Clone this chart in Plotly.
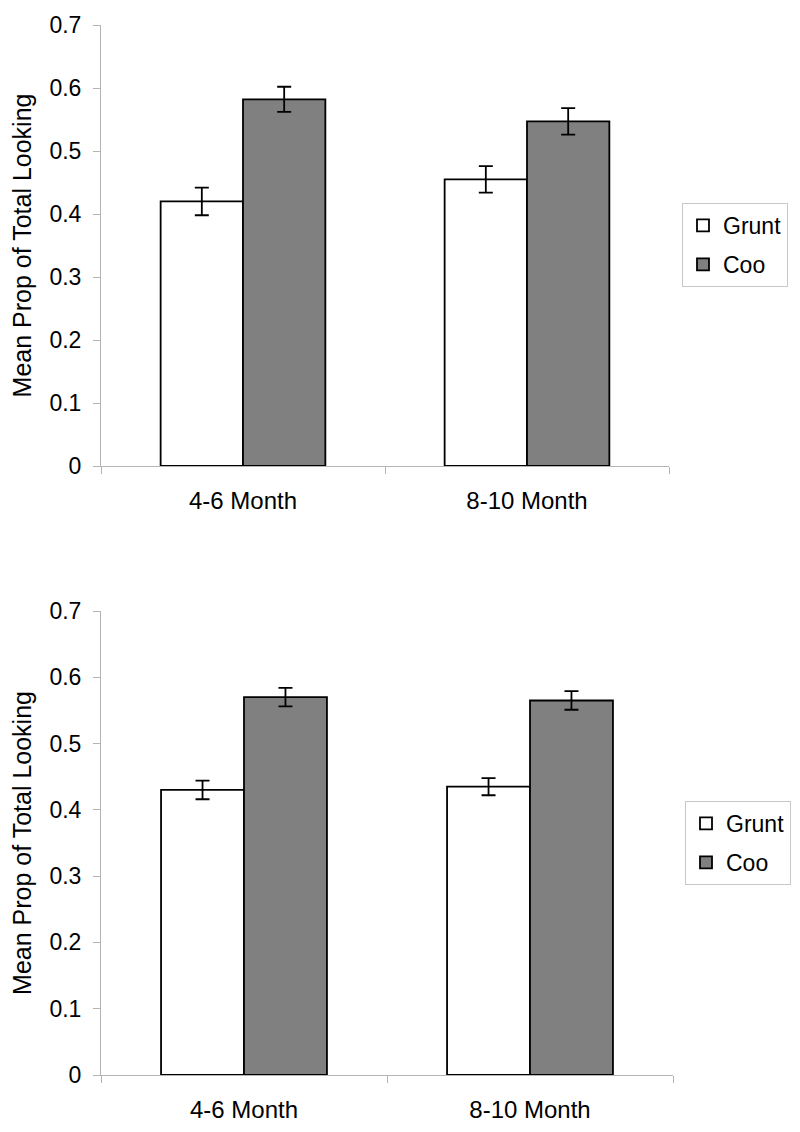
import plotly.graph_objects as go

categories = ["4-6 Month", "8-10 Month"]
tick_vals = [0, 0.1, 0.2, 0.3, 0.4, 0.5, 0.6, 0.7]
tick_text = ["0", "0.1", "0.2", "0.3", "0.4", "0.5", "0.6", "0.7"]

top_grunt = [0.42, 0.455]
top_grunt_err = [0.022, 0.021]
top_coo = [0.582, 0.547]
top_coo_err = [0.020, 0.021]

bot_grunt = [0.430, 0.435]
bot_grunt_err = [0.014, 0.013]
bot_coo = [0.570, 0.565]
bot_coo_err = [0.014, 0.014]

FONT = "Liberation Sans, Arial, sans-serif"
AXIS_GRAY = "#b4b4b4"

fig = go.Figure()

def add_bars(yvals, errs, name, color, xaxis, yaxis, legend, group):
    fig.add_trace(go.Bar(
        x=categories, y=yvals, name=name,
        marker=dict(color=color, line=dict(color="black", width=1.8)),
        error_y=dict(type="data", array=errs, visible=True, color="black",
                     thickness=1.8, width=7),
        xaxis=xaxis, yaxis=yaxis, legend=legend, legendgroup=group,
    ))

add_bars(top_grunt, top_grunt_err, "Grunt", "white", "x", "y", "legend", "tg")
add_bars(top_coo, top_coo_err, "Coo", "#808080", "x", "y", "legend", "tc")
add_bars(bot_grunt, bot_grunt_err, "Grunt", "white", "x2", "y2", "legend2", "bg")
add_bars(bot_coo, bot_coo_err, "Coo", "#808080", "x2", "y2", "legend2", "bc")

W, H = 800, 1132
OFF = 8  # page offset of the plot div

def xdom(l, r):
    return [(l - OFF) / W, (r - OFF) / W]

def ydom(top_px, bot_px):
    return [(H - (bot_px - OFF)) / H, (H - (top_px - OFF)) / H]

xaxis_common = dict(
    type="category", showline=True, linecolor=AXIS_GRAY, linewidth=1,
    ticks="outside", tickson="boundaries", ticklen=7, tickcolor=AXIS_GRAY,
    showgrid=False, zeroline=False, fixedrange=True, automargin=False,
    tickfont=dict(family=FONT, size=24, color="black"),
    ticklabelstandoff=13,
)
yaxis_common = dict(
    range=[0, 0.7], tickvals=tick_vals, ticktext=tick_text,
    showline=True, linecolor=AXIS_GRAY, linewidth=1,
    ticks="outside", ticklen=7, tickcolor=AXIS_GRAY,
    showgrid=False, zeroline=False, automargin=False,
    tickfont=dict(family=FONT, size=23, color="black"),
    ticklabelstandoff=7,
    title=dict(text="Mean Prop of Total Looking",
               font=dict(family=FONT, size=25, color="black"), standoff=14),
)

legend_common = dict(
    bgcolor="white", bordercolor="#c8c8c8", borderwidth=1,
    font=dict(family=FONT, size=23, color="black"),
    xanchor="left", yanchor="top", traceorder="grouped", tracegroupgap=6,
)

fig.update_layout(
    width=W, height=H,
    margin=dict(l=0, r=0, t=0, b=0, autoexpand=False),
    paper_bgcolor="white", plot_bgcolor="white",
    barmode="group", bargap=0.42, bargroupgap=0,
    font=dict(family=FONT, size=22, color="black"),
    xaxis=dict(domain=xdom(101, 669), anchor="y", **xaxis_common),
    yaxis=dict(domain=ydom(25, 466), anchor="x", **yaxis_common),
    xaxis2=dict(domain=xdom(101, 673), anchor="y2", **xaxis_common),
    yaxis2=dict(domain=ydom(611, 1075), anchor="x2", **yaxis_common),
    legend=dict(x=(682 - OFF) / W, y=(H - (203 - OFF)) / H, **legend_common),
    legend2=dict(x=(685 - OFF) / W, y=(H - (801 - OFF)) / H, **legend_common),
    showlegend=True,
)

fig.write_html("out.html")
